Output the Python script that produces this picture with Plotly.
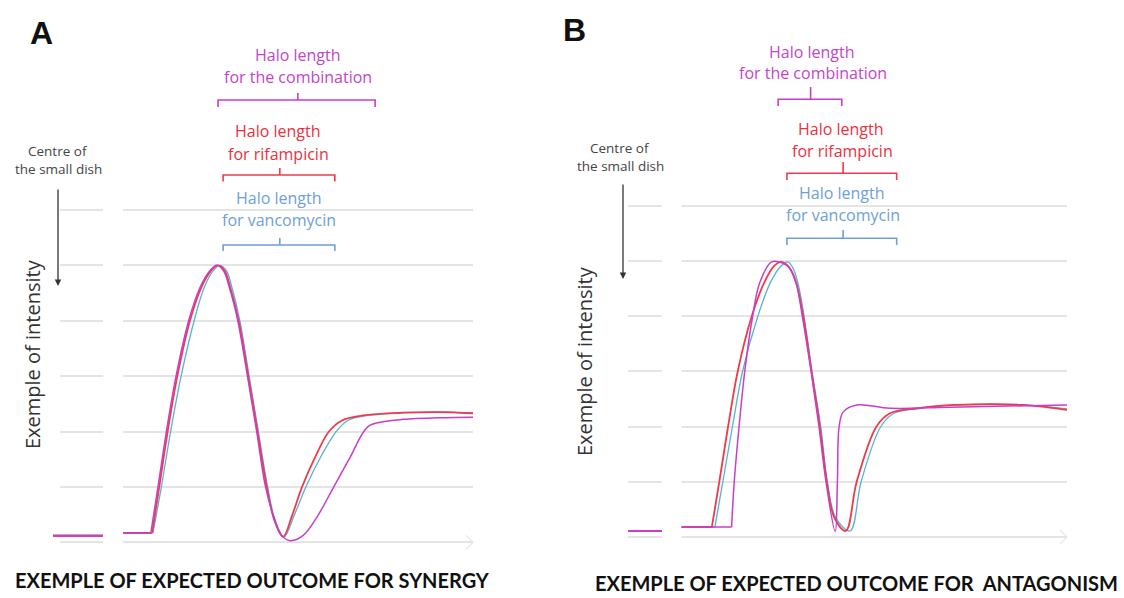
import plotly.graph_objects as go

W, H = 1124, 598

# ---------------- data: panel A (synergy) ----------------
# baseline inside the small dish (left of the axis break)
A_inner_x = [0, 11.9]
A_inner_y = [0.12, 0.12]

A_van_x = [16.7, 23.8, 25.8, 28.0, 30.5, 33.6, 36.0, 38.1, 39.7, 41.3, 42.6, 44.5, 46.7, 48.9,
           51.1, 52.9, 55.0, 57.5, 60.2, 63.8, 67.4, 70.2, 75.0, 83.8, 92.1, 100]
A_van_y = [0.17, 0.17, 1.0, 2.0, 3.0, 4.0, 4.6, 4.9, 5.0, 4.9, 4.6, 4.0, 3.0, 2.0,
           1.0, 0.4, 0.1, 0.5, 1.0, 1.55, 2.0, 2.2, 2.29, 2.34, 2.35, 2.33]

A_rif_x = [16.7, 23.6, 25.3, 27.3, 29.6, 32.6, 35.3, 37.6, 39.3, 40.9, 42.2, 44.2, 46.5, 48.7,
           50.9, 52.7, 54.8, 57.0, 59.3, 62.5, 65.7, 68.8, 73.8, 83.3, 92.1, 100]
A_rif_y = [0.17, 0.17, 1.0, 2.0, 3.0, 4.0, 4.6, 4.9, 5.0, 4.9, 4.6, 4.0, 3.0, 2.0,
           1.0, 0.4, 0.1, 0.5, 1.0, 1.55, 2.0, 2.2, 2.29, 2.34, 2.35, 2.33]

A_combo_x = [16.7, 23.3, 25.0, 27.0, 29.3, 32.3, 35.0, 37.3, 39.0, 40.6, 42.0, 44.0, 46.3, 48.5,
             50.6, 52.6, 54.4, 56.4, 59.5, 62.8, 66.7, 70.7, 75.0, 79.0, 83.3, 92.1, 100]
A_combo_y = [0.17, 0.17, 1.0, 2.0, 3.0, 4.0, 4.6, 4.9, 5.0, 4.9, 4.6, 4.0, 3.0, 2.0,
             1.0, 0.45, 0.13, 0.03, 0.12, 0.45, 0.98, 1.53, 2.09, 2.18, 2.22, 2.25, 2.26]

# halo brackets (start, end, centre) on the distance axis
A_combo_halo = [39.3, 76.7, 58.3]
A_rif_halo = [40.5, 67.1, 54.0]
A_van_halo = [40.5, 67.1, 54.0]

# ---------------- data: panel B (antagonism) ----------------
B_inner_x = [0, 7.7]
B_inner_y = [0.11, 0.11]

B_van_x = [12.2, 19.8, 21.6, 23.8, 26.1, 29.6, 32.4, 34.8, 36.4, 37.5, 38.7, 40.1, 41.9, 43.9,
           45.4, 47.3, 50.6, 53.1, 57.6, 60.6, 66.7, 75.6, 90, 100]
B_van_y = [0.18, 0.18, 1.0, 2.0, 3.0, 4.0, 4.6, 4.9, 4.98, 4.88, 4.6, 4.0, 3.0, 2.0,
           1.0, 0.35, 0.11, 1.0, 2.0, 2.24, 2.33, 2.39, 2.39, 2.32]

B_rif_x = [12.2, 19.1, 20.8, 22.8, 25.0, 28.2, 31.0, 33.2, 34.9, 36.7, 38.3, 39.9, 41.8, 43.7,
           45.3, 47.0, 49.6, 52.1, 56.6, 59.7, 65.8, 74.7, 90, 100]
B_rif_y = [0.18, 0.18, 1.0, 2.0, 3.0, 4.0, 4.6, 4.9, 4.98, 4.88, 4.6, 4.0, 3.0, 2.0,
           1.0, 0.35, 0.11, 1.0, 2.0, 2.24, 2.33, 2.39, 2.39, 2.3]

B_combo_x = [12.2, 23.6, 24.2, 25.3, 26.6, 28.4, 30.0, 32.7, 35.2, 36.9, 38.3, 39.7, 41.7, 43.5,
             45.1, 47.2, 47.7, 48.1, 49.0, 52.1, 59.7, 73.3, 100]
B_combo_y = [0.18, 0.18, 1.0, 2.0, 3.0, 4.0, 4.6, 4.98, 4.96, 4.86, 4.6, 4.0, 3.0, 2.0,
             1.0, 0.1, 1.0, 2.0, 2.26, 2.39, 2.33, 2.35, 2.39]

B_combo_halo = [34.2, 48.7, 41.6]
B_rif_halo = [36.2, 61.2, 49.0]
B_van_halo = [36.2, 61.2, 49.0]

# ---------------- style ----------------
C_VAN, C_RIF, C_COMBO = "#58b2d2", "#f03a4c", "#c83ec8"
T_VAN, T_RIF, T_COMBO = "#6e9fd6", "#ea3040", "#c444c8"
GRID = "#e4e4e4"
LABEL_FONT = "Open Sans"
TITLE_FONT = "Lato"


def py(p):
    """pixel row -> paper fraction"""
    return 1 - p / H


def px(p):
    return p / W


fig = go.Figure()


def add_curve(xs, ys, color, width, xa, ya):
    # flat stretch before the rise, then the smooth intensity profile
    fig.add_trace(go.Scatter(x=xs[:2], y=ys[:2], mode="lines", xaxis=xa, yaxis=ya,
                             line=dict(color=color, width=width), hoverinfo="skip",
                             showlegend=False))
    fig.add_trace(go.Scatter(x=xs[1:], y=ys[1:], mode="lines", xaxis=xa, yaxis=ya,
                             line=dict(color=color, width=width, shape="spline", smoothing=1.0),
                             hoverinfo="skip", showlegend=False))


def add_inner(xs, ys, xa, ya):
    for c in (C_VAN, C_RIF, C_COMBO):
        fig.add_trace(go.Scatter(x=xs, y=ys, mode="lines", xaxis=xa, yaxis=ya,
                                 line=dict(color=c, width=2), hoverinfo="skip",
                                 showlegend=False))


# panel A
add_inner(A_inner_x, A_inner_y, "x", "y")
add_curve(A_van_x, A_van_y, C_VAN, 1.3, "x", "y")
add_curve(A_rif_x, A_rif_y, C_RIF, 1.8, "x", "y")
add_curve(A_combo_x, A_combo_y, C_COMBO, 1.5, "x", "y")
# panel B
add_inner(B_inner_x, B_inner_y, "x2", "y2")
add_curve(B_van_x, B_van_y, C_VAN, 1.3, "x2", "y2")
add_curve(B_rif_x, B_rif_y, C_RIF, 1.8, "x2", "y2")
add_curve(B_combo_x, B_combo_y, C_COMBO, 1.5, "x2", "y2")

axis_x = dict(range=[0, 100], showgrid=False, zeroline=False, showline=False,
              showticklabels=False, ticks="", fixedrange=True)
axis_y = dict(range=[-0.2, 6.2], tick0=0, dtick=1, showgrid=True, gridcolor=GRID,
              gridwidth=1.5, zeroline=False, showline=False, showticklabels=False,
              ticks="", fixedrange=True)

fig.update_layout(
    width=W, height=H, margin=dict(l=0, r=0, t=0, b=0),
    paper_bgcolor="white", plot_bgcolor="white",
    xaxis=dict(axis_x, domain=[px(53), px(473)]),
    yaxis=dict(axis_y, domain=[py(553.4), py(198.9)], anchor="x"),
    xaxis2=dict(axis_x, domain=[px(628), px(1067)], anchor="y2"),
    yaxis2=dict(axis_y, domain=[py(548.05), py(194.45)], anchor="x2"),
)

shapes = []
# axis breaks and left margins of the grid (white over grid, under the curves)
for xa, ya, x0, x1 in (("x", "y", 11.9, 16.7), ("x", "y", -1, 1.7),
                       ("x2", "y2", 7.7, 12.2)):
    shapes.append(dict(type="rect", xref=xa, yref=ya, x0=x0, x1=x1, y0=-0.3, y1=6.3,
                       fillcolor="white", line=dict(width=0), layer="between"))


def bracket(xa, halo, yl, yb, yt, color):
    x0, x1, xc = halo
    return dict(type="path", xref=xa, yref="paper",
                path=(f"M {x0},{py(yb)} L {x0},{py(yl)} L {x1},{py(yl)} L {x1},{py(yb)} "
                      f"M {xc},{py(yl)} L {xc},{py(yt)}"),
                line=dict(color=color, width=1.6))


shapes += [
    bracket("x", A_combo_halo, 100, 107, 93, C_COMBO),
    bracket("x", A_rif_halo, 175, 181.5, 168, C_RIF),
    bracket("x", A_van_halo, 245, 251, 238, T_VAN),
    bracket("x2", B_combo_halo, 99.3, 106, 87, C_COMBO),
    bracket("x2", B_rif_halo, 173.3, 180, 162, C_RIF),
    bracket("x2", B_van_halo, 238.3, 245, 230, T_VAN),
]

# faint arrow heads at the end of the distance axes
for ex, ey in ((473, 542.3), (1067, 537)):
    shapes.append(dict(type="path", xref="paper", yref="paper",
                       path=(f"M {px(ex - 7)},{py(ey - 7)} L {px(ex)},{py(ey)} "
                             f"L {px(ex - 7)},{py(ey + 7)}"),
                       line=dict(color="#e6e6e6", width=1.2)))

fig.update_layout(shapes=shapes)

ann = []


def text(x, y, s, color="#333333", size=16, family=LABEL_FONT, angle=0):
    ann.append(dict(x=px(x), y=py(y), xref="paper", yref="paper", text=s, showarrow=False,
                    xanchor="center", yanchor="middle", textangle=angle,
                    font=dict(family=family, size=size, color=color)))


# panel letters
text(41, 33, "<b>A</b>", "#111111", 32, "Liberation Sans")
text(574, 30, "<b>B</b>", "#111111", 32, "Liberation Sans")

# halo labels, panel A
text(298, 55, "Halo length", T_COMBO)
text(298, 77, "for the combination", T_COMBO)
text(278, 131, "Halo length", T_RIF)
text(278, 154, "for rifampicin", T_RIF)
text(279, 198, "Halo length", T_VAN)
text(279, 220, "for vancomycin", T_VAN)

# halo labels, panel B
text(812, 51.5, "Halo length", T_COMBO)
text(813, 73.5, "for the combination", T_COMBO)
text(841, 128.5, "Halo length", T_RIF)
text(842, 150.5, "for rifampicin", T_RIF)
text(842, 193.5, "Halo length", T_VAN)
text(843, 215.5, "for vancomycin", T_VAN)

# dish centre markers
for cx, cy in ((58, 151), (620, 148)):
    text(cx, cy, "Centre of", "#444444", 13.5)
    text(cx, cy + 18, "the small dish", "#444444", 13.5)

for ax_x, top, tip in ((58, 188, 286), (623, 183, 279)):
    ann.append(dict(x=px(ax_x), y=py(tip), ax=0, ay=-(tip - top), xref="paper",
                    yref="paper", axref="pixel", ayref="pixel", showarrow=True,
                    arrowhead=2, arrowsize=1.0, arrowwidth=1.3, arrowcolor="#333333",
                    text=""))

# axis titles
text(32, 354, "Exemple of intensity", "#333333", 20, angle=-90)
text(584, 361, "Exemple of intensity", "#333333", 20, angle=-90)
text(252, 580, "<b>EXEMPLE OF EXPECTED OUTCOME FOR SYNERGY</b>", "#111111", 20, TITLE_FONT)
text(856, 583, "<b>EXEMPLE OF EXPECTED OUTCOME FOR \u00a0ANTAGONISM</b>", "#111111", 20,
     TITLE_FONT)

fig.update_layout(annotations=ann)

fig.write_html("out.html")
